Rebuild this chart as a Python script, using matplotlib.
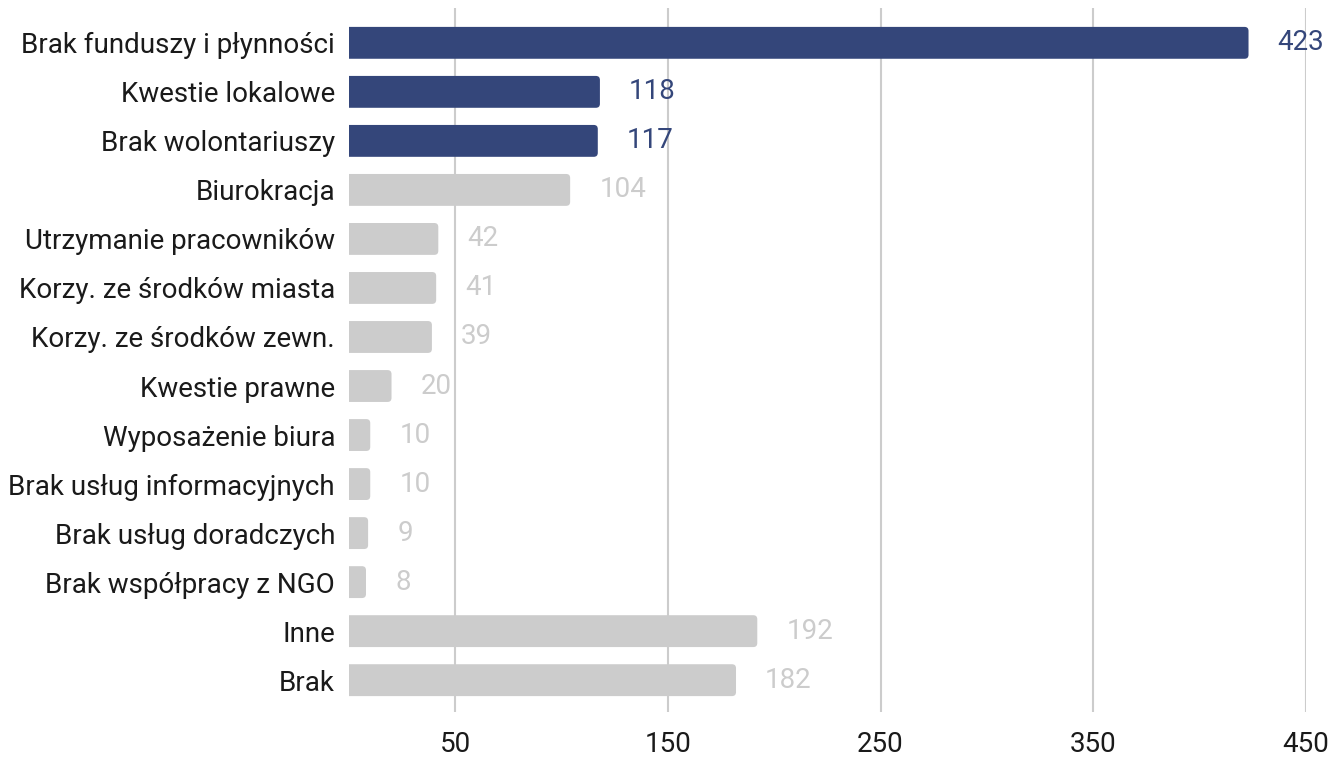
import matplotlib.pyplot as plt
from matplotlib.patches import FancyBboxPatch

categories = [
    "Brak funduszy i płynności",
    "Kwestie lokalowe",
    "Brak wolontariuszy",
    "Biurokracja",
    "Utrzymanie pracowników",
    "Korzy. ze środków miasta",
    "Korzy. ze środków zewn.",
    "Kwestie prawne",
    "Wyposażenie biura",
    "Brak usług informacyjnych",
    "Brak usług doradczych",
    "Brak współpracy z NGO",
    "Inne",
    "Brak",
]
values = [423, 118, 117, 104, 42, 41, 39, 20, 10, 10, 9, 8, 192, 182]
highlighted = 3
xticks = [50, 150, 250, 350, 450]

NAVY = "#34467a"
GREY = "#cccccc"

plt.rcParams["font.family"] = ["Roboto", "DejaVu Sans"]

fig = plt.figure(figsize=(13.33, 7.57), dpi=100)
ax = fig.add_axes([0.2618, 0.0594, 0.9797 - 0.2618, 0.9894 - 0.0594])

y = list(range(len(categories)))
colors = [NAVY if i < highlighted else GREY for i in y]
bars = ax.barh(y, values, height=0.65, color=colors, zorder=2)

ax.set_xlim(0, 450)
ax.set_ylim(len(categories) - 1 + 0.65, -0.71)

# replace plain bars with bars that have rounded right corners
px_x = (ax.get_position().width * 1333) / 450
px_y = (ax.get_position().height * 757) / (len(categories) - 1 + 0.65 + 0.71)
radius = 4 / px_x
for b, c in zip(bars, colors):
    b.set_visible(False)
    x0, y0 = b.get_x(), b.get_y()
    w, h = b.get_width(), b.get_height()
    p = FancyBboxPatch((x0 - 3, y0), w + 3, h,
                       boxstyle=f"round,pad=0,rounding_size={radius}",
                       mutation_aspect=px_x / px_y,
                       facecolor=c, edgecolor="none", zorder=2)
    ax.add_patch(p)

for i, v in enumerate(values):
    ax.annotate(str(v), (v, i), xytext=(21, 0), textcoords="offset points",
                ha="left", va="center", fontsize=20,
                color=colors[i], annotation_clip=False, zorder=1)

ax.set_yticks(y)
ax.set_yticklabels(categories, fontsize=20, color="#1a1a1a")
ax.set_xticks(xticks)
ax.set_xticklabels([str(t) for t in xticks], fontsize=20, color="#1a1a1a")
ax.tick_params(axis="y", length=0, pad=10)
ax.tick_params(axis="x", length=0, pad=14)

ax.grid(axis="x", color="#cccccc", linewidth=1.5, zorder=0)
ax.set_axisbelow(True)
for s in ax.spines.values():
    s.set_visible(False)

fig.savefig("out.png", dpi=100)
